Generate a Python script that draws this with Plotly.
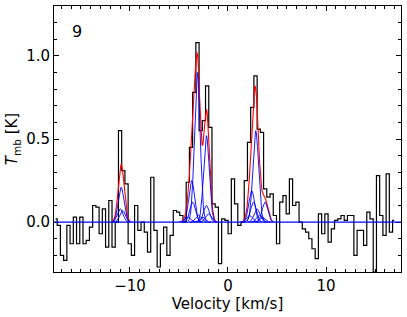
import numpy as np
import plotly.graph_objects as go

# ---- spectrum (channel values, K) ----
v_first = -17.59      # centre of first channel [km/s]
chan_width = 0.329    # channel width [km/s]
tmb = [
    0.02, -0.02, -0.2, -0.23, -0.02, -0.13, 0.03, -0.13, 0.03, -0.13,
    -0.11, -0.03, 0.1, 0.09, -0.07, 0.08, -0.15, 0.13, -0.15, 0.0,
    0.55, 0.31, 0.23, -0.13, -0.2, 0.1, -0.05, 0.0, -0.06, -0.18,
    0.27, -0.05, -0.27, -0.13, -0.03, -0.2, -0.08, 0.07, 0.06, 0.04, 0.0,
    0.24, 0.45, 0.78, 1.08, 0.55, 0.61, 0.82, 0.57, 0.11, 0.09,
    -0.25, 0.02, 0.01, -0.07, 0.26, 0.11, -0.02,
    0.0, 0.25, 0.48, 0.69, 0.88, 0.56, 0.54,
    0.2, 0.15, 0.17, 0.04, -0.13, 0.12, 0.16, 0.05, 0.26, 0.1,
    0.12, 0.0, -0.04, -0.06, -0.1, -0.16, -0.22, 0.05, -0.07,
    0.05, -0.12, -0.04, 0.01, 0.02, 0.04, 0.01, 0.04, 0.04, -0.2,
    -0.05, -0.05, -0.14, 0.06, 0.02, -0.3, 0.28, 0.04, -0.08, 0.29,
    -0.06, 0.01,
]
velocity = [round(v_first + chan_width * i, 3) for i in range(len(tmb))]

# ---- Gaussian fit components (centre km/s, amplitude K, sigma km/s) ----
comp_center = [-10.9, -11.0, -10.75,
               -3.13, -2.2, -3.7, -3.6, -2.2, -3.0, -2.0, -4.1, -2.6,
               2.83, 2.42, 3.78, 2.6, 2.95, 3.2, 2.2, 3.5]
comp_amp = [0.21, 0.08, 0.07,
            0.90, 0.52, 0.25, 0.12, 0.10, 0.04, 0.05, 0.03, 0.03,
            0.55, 0.19, 0.12, 0.12, 0.08, 0.04, 0.04, 0.03]
comp_sigma = [0.29] * len(comp_center)

x_range = [-17.75, 17.65]
y_range = [-0.3, 1.3]
panel_label = "9"

fig = go.Figure()

# observed spectrum (histogram style)
fig.add_trace(go.Scatter(x=velocity, y=tmb, mode="lines",
                         line=dict(color="black", width=1.2, shape="hvh"),
                         hoverinfo="skip"))

vgrid = np.arange(x_range[0], x_range[1], 0.02)
total = np.zeros_like(vgrid)
comps = []
for c, a, s in zip(comp_center, comp_amp, comp_sigma):
    g = a * np.exp(-(vgrid - c) ** 2 / (2 * s * s))
    total += g
    comps.append((c, s, g))

red = np.where(total > 2e-3, total, np.nan)
fig.add_trace(go.Scatter(x=vgrid, y=red, mode="lines",
                         line=dict(color="red", width=1.1),
                         connectgaps=False, hoverinfo="skip"))

for c, s, g in comps:
    m = np.abs(vgrid - c) <= 3.2 * s
    fig.add_trace(go.Scatter(x=vgrid[m], y=g[m], mode="lines",
                             line=dict(color="blue", width=0.9),
                             hoverinfo="skip"))

fig.add_hline(y=0, line=dict(color="blue", width=1.4))

fig.add_annotation(text=panel_label, x=0.065, y=0.905, xref="paper", yref="paper",
                   showarrow=False, xanchor="center", yanchor="middle",
                   font=dict(size=16, color="black", family="DejaVu Sans"))

axis_common = dict(showline=True, linecolor="black", linewidth=1, mirror="allticks",
                   ticks="inside", ticklen=5, tickcolor="black", tickwidth=1,
                   showgrid=False, zeroline=False, automargin=False,
                   tickfont=dict(size=15, color="black", family="DejaVu Sans"))

fig.update_xaxes(range=x_range, tickvals=[-10, 0, 10],
                 ticktext=["\u221210", "0", "10"],
                 minor=dict(ticks="inside", ticklen=3, dtick=1, tick0=0,
                            tickcolor="black", tickwidth=1),
                 title=dict(text="Velocity [km/s]", standoff=2,
                            font=dict(size=15, color="black", family="DejaVu Sans")),
                 **axis_common)
fig.update_yaxes(range=y_range, tickvals=[0, 0.5, 1.0],
                 ticktext=["0.0", "0.5", "1.0"],
                 minor=dict(ticks="inside", ticklen=3, dtick=0.1, tick0=0,
                            tickcolor="black", tickwidth=1),
                 title=dict(text="<i>T</i><sub>mb</sub> [K]", standoff=4,
                            font=dict(size=15, color="black", family="DejaVu Sans")),
                 **axis_common)

fig.update_layout(width=407, height=317, showlegend=False,
                  margin=dict(l=54, r=6, t=6, b=45, autoexpand=False),
                  plot_bgcolor="white", paper_bgcolor="white",
                  font=dict(family="DejaVu Sans", color="black"))

fig.write_html("out.html", config={"displayModeBar": False, "staticPlot": True},
               post_script="document.body.style.margin='0px';document.body.style.padding='0px';")
